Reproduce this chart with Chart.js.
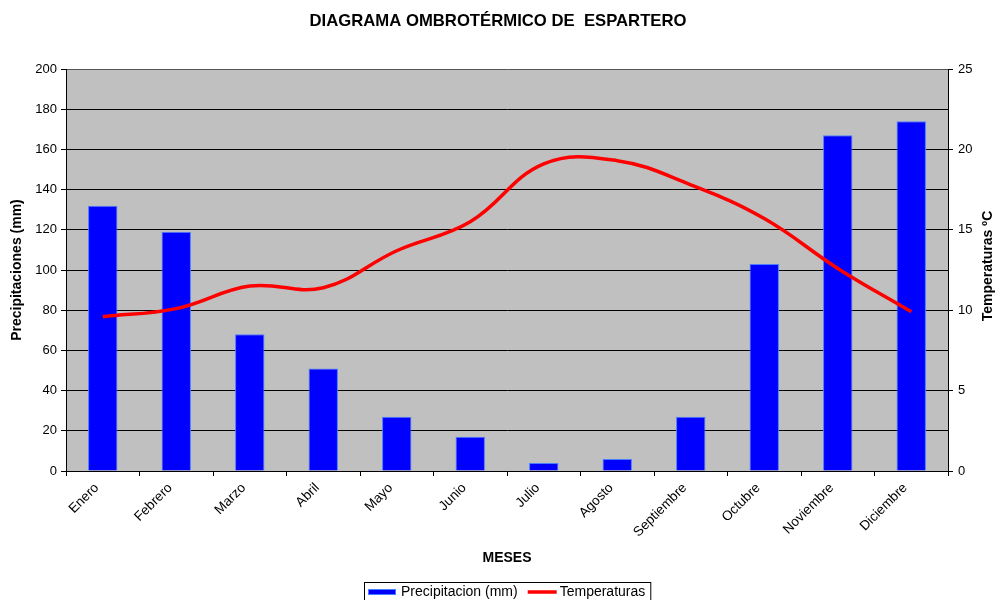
<!DOCTYPE html>
<html>
<head>
<meta charset="utf-8">
<title>Diagrama ombrotérmico de Espartero</title>
<script src="https://cdn.jsdelivr.net/npm/chart.js@4.4.1/dist/chart.umd.min.js"></script>
<style>
    html, body { margin: 0; padding: 0; background: #fff; }
    #wrap { width: 996px; height: 600px; }
</style>
</head>
<body>
<div id="wrap"><canvas id="ombroChart" width="996" height="600"></canvas></div>
<script>
// ---------- DATA ----------
const meses = ["Enero", "Febrero", "Marzo", "Abril", "Mayo", "Junio",
    "Julio", "Agosto", "Septiembre", "Octubre", "Noviembre", "Diciembre"];

// precipitation in mm (left axis)
const precipitacion = [132, 119, 68, 51, 27, 17, 4, 6, 27, 103, 167, 174];

// temperature in ºC (right axis)
const temperaturas = [9.6, 10.1, 11.5, 11.4, 13.7, 15.5, 19.1, 19.3, 17.8, 15.7, 12.6, 9.9];

// axis ranges
const precipTicks = [0, 200, 20];   // min, max, step
const tempTicks = [0, 25, 5];

const FONT = "'Liberation Sans', Arial, sans-serif";

// grey plot background
const plotBackground = {
    id: "plotBackground",
    beforeDraw(chart) {
        const { ctx, chartArea } = chart;
        ctx.save();
        ctx.fillStyle = "#c0c0c0";
        ctx.fillRect(chartArea.left, chartArea.top,
            chartArea.right - chartArea.left, chartArea.bottom - chartArea.top);
        ctx.restore();
    }
};

// right axis title (reads upwards) + boxed legend at the bottom
const extras = {
    id: "extras",
    afterDraw(chart) {
        const { ctx, chartArea } = chart;
        ctx.save();

        // right title
        ctx.font = "bold 14px " + FONT;
        ctx.fillStyle = "#000";
        ctx.textAlign = "center";
        ctx.textBaseline = "middle";
        ctx.translate(988, (chartArea.top + chartArea.bottom) / 2 - 4);
        ctx.rotate(-Math.PI / 2);
        ctx.fillText("Temperaturas ºC", 0, 0);
        ctx.setTransform(1, 0, 0, 1, 0, 0);

        // legend
        const ds = chart.data.datasets;
        const barDs = ds.find(d => d.type === "bar");
        const lineDs = ds.find(d => d.type === "line");
        ctx.font = "14px " + FONT;
        const w1 = ctx.measureText(barDs.label).width;
        const w2 = ctx.measureText(lineDs.label).width;
        const total = 4 + 28 + 5 + w1 + 10 + 29 + 3 + w2 + 5;
        const left = Math.round((chartArea.left + chartArea.right) / 2 - total / 2);
        const cy = 592;

        ctx.strokeStyle = "#000";
        ctx.lineWidth = 1;
        ctx.strokeRect(left + 0.5, 582.5, total, 24);

        let x = left + 4;
        ctx.fillStyle = barDs.backgroundColor;
        ctx.fillRect(x, cy - 3, 28, 6);
        ctx.strokeStyle = barDs.borderColor;
        ctx.strokeRect(x + 0.5, cy - 2.5, 27, 5);
        x += 28 + 5;
        ctx.fillStyle = "#000";
        ctx.textAlign = "left";
        ctx.textBaseline = "middle";
        ctx.fillText(barDs.label, x, cy);
        x += w1 + 10;
        ctx.strokeStyle = lineDs.borderColor;
        ctx.lineWidth = 3.5;
        ctx.beginPath();
        ctx.moveTo(x, cy);
        ctx.lineTo(x + 29, cy);
        ctx.stroke();
        x += 29 + 3;
        ctx.fillText(lineDs.label, x, cy);

        ctx.restore();
    }
};

const ctx = document.getElementById("ombroChart").getContext("2d");

new Chart(ctx, {
    data: {
        labels: meses,
        datasets: [
            {
                type: "line",
                label: "Temperaturas",
                data: temperaturas,
                yAxisID: "yTemp",
                borderColor: "#ff0000",
                borderWidth: 3.5,
                pointRadius: 0,
                tension: 0.4,
                fill: false,
                order: 0
            },
            {
                type: "bar",
                label: "Precipitacion (mm)",
                data: precipitacion,
                yAxisID: "yPrecip",
                backgroundColor: "#0000ff",
                borderColor: "#4a7dff",
                borderWidth: 1,
                barPercentage: 0.4,
                categoryPercentage: 1,
                order: 1
            }
        ]
    },
    options: {
        responsive: false,
        animation: false,
        layout: { padding: 0 },
        plugins: {
            legend: { display: false },
            tooltip: { enabled: false },
            title: {
                display: true,
                text: "DIAGRAMA OMBROTÉRMICO DE  ESPARTERO",
                color: "#000",
                font: { family: FONT, size: 16.7, weight: "bold" },
                padding: { top: 11, bottom: 38 }
            }
        },
        scales: {
            x: {
                offset: true,
                grid: { offset: true, drawOnChartArea: false, tickLength: 5, color: "#000" },
                border: { color: "#000", width: 1 },
                ticks: {
                    autoSkip: false,
                    minRotation: 45,
                    maxRotation: 45,
                    padding: 4,
                    labelOffset: -6,
                    color: "#000",
                    font: { family: FONT, size: 13.5 }
                },
                title: {
                    display: true,
                    text: "MESES",
                    color: "#000",
                    font: { family: FONT, size: 14, weight: "bold" },
                    padding: { top: 0, bottom: 33 }
                },
                afterFit(scale) { scale.height = 129; }
            },
            yPrecip: {
                position: "left",
                min: precipTicks[0],
                max: precipTicks[1],
                ticks: {
                    stepSize: precipTicks[2],
                    padding: 4,
                    color: "#000",
                    font: { family: FONT, size: 13 }
                },
                grid: {
                    color: c => c.tick && c.tick.value === precipTicks[1] ? "#555" : "#000",
                    tickLength: 5,
                    tickColor: "#000"
                },
                border: { color: "#000", width: 1 },
                title: {
                    display: true,
                    text: "Precipitaciones (mm)",
                    color: "#000",
                    font: { family: FONT, size: 14, weight: "bold" },
                    padding: { top: 9, bottom: 0 }
                },
                afterFit(scale) { scale.width = 66; }
            },
            yTemp: {
                position: "right",
                min: tempTicks[0],
                max: tempTicks[1],
                ticks: {
                    stepSize: tempTicks[2],
                    padding: 5,
                    color: "#000",
                    font: { family: FONT, size: 13 }
                },
                grid: { drawOnChartArea: false, tickLength: 5, color: "#000" },
                border: { color: "#000", width: 1 },
                afterFit(scale) { scale.width = 48; }
            }
        }
    },
    plugins: [plotBackground, extras]
});
</script>
</body>
</html>
